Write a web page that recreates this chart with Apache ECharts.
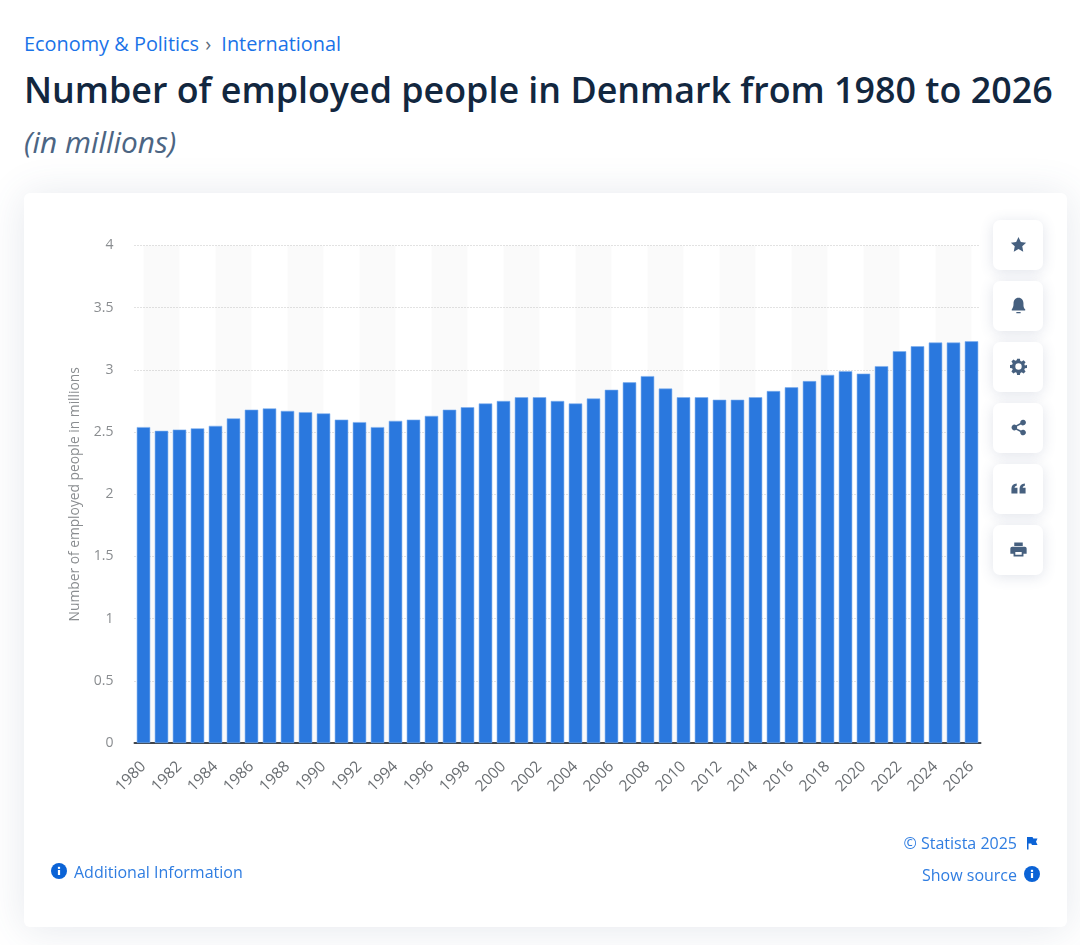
<!DOCTYPE html>
<html>
<head>
<meta charset="utf-8">
<title>Number of employed people in Denmark</title>
<script src="https://cdn.jsdelivr.net/npm/echarts@6/dist/echarts.min.js"></script>
<style>
  html, body { margin: 0; padding: 0; background: #fff; }
  body { width: 1080px; height: 945px; position: relative; overflow: hidden; font-family: "Open Sans", sans-serif; }
  .abs { position: absolute; white-space: nowrap; }
  .crumb { left: 24px; top: 30px; font-size: 19.9px; line-height: 27px; color: #1a73e8; }
  .crumb span { color: #5b6b7c; margin: 0 5px 0 1px; }
  h1 { margin: 0; left: 24px; top: 65px; font-size: 35.83px; line-height: 48px; font-weight: 600; color: #12273f; }
  .sub { left: 24px; top: 122px; font-size: 29.8px; line-height: 40px; font-style: italic; color: #4c6583; }
  #card { position: absolute; left: 24px; top: 193px; width: 1043px; height: 734px; background: #fff; border-radius: 6px;
          box-shadow: 0 2px 40px rgba(70, 90, 130, 0.14); }
  #chart { position: absolute; left: 24px; top: 193px; width: 1043px; height: 734px; }
  .btn { position: absolute; left: 993px; width: 50px; height: 50px; background: #fff; border-radius: 7px;
         box-shadow: 0 2px 14px rgba(70, 90, 130, 0.16); display: flex; align-items: center; justify-content: center; }
  .btn svg { width: 17px; height: 17px; fill: #46607f; margin-top: -1px; }
  .link { font-size: 16px; line-height: 22px; color: #2f7de1; }
  .ico { position: absolute; }
</style>
</head>
<body>
<div class="abs crumb">Economy &amp; Politics <span>›</span> International</div>
<h1 class="abs">Number of employed people in Denmark from 1980 to 2026</h1>
<div class="abs sub">(in millions)</div>
<div id="card"></div>
<div id="chart"></div>

<div class="btn" style="top:220px"><svg viewBox="0 0 24 24"><path d="M12 1.5l3.3 6.9 7.5 1-5.5 5.2 1.4 7.5L12 18.4l-6.7 3.7 1.4-7.5L1.200 9.400l7.500-1z"/></svg></div>
<div class="btn" style="top:281px"><svg viewBox="0 0 24 24"><path d="M12 1c-4.500 0-7 3.500-7 8 0 4-1 6-2.500 8.500-.4.7 0 1.500.9 1.500h17.200c.9 0 1.300-.8.9-1.500C19 15 19 13 19 9c0-4.500-2.500-8-7-8zM9 21h6v1.800H9z"/></svg></div>
<div class="btn" style="top:342px"><svg viewBox="0 0 24 24"><path fill-rule="evenodd" d="M10 1h4l.6 3.100 1.900.8 2.700-1.800 2.800 2.800-1.800 2.700.8 1.900L24 10v4l-3 .6-.8 1.900 1.800 2.700-2.800 2.800-2.700-1.800-1.900.8L14 24h-4l-.6-3.100-1.900-.8-2.700 1.800L2 19.100l1.800-2.700-.8-1.900L0 14v-4l3-.6.8-1.900L2 4.900l2.800-2.800 2.700 1.800 1.900-.8zM12 7.500a4.500 4.500 0 1 0 0 9 4.500 4.500 0 0 0 0-9z"/></svg></div>
<div class="btn" style="top:403px"><svg viewBox="0 0 24 24"><path d="M18.500 1a4 4 0 1 1-3 6.700L9.800 10.600a4 4 0 0 1 0 2.800l5.700 2.900a4 4 0 1 1-1 2l-5.900-3a4 4 0 1 1 0-6.600l5.900-3A4 4 0 0 1 18.500 1z"/></svg></div>
<div class="btn" style="top:464px"><svg viewBox="0 0 24 24"><path d="M2 12.500C2 8 4.500 5.500 9.500 5v3C7.500 8.300 6.500 9.300 6.500 11H10.500v8H2zM13.500 12.500C13.500 8 16 5.500 21 5v3c-2 .3-3 1.300-3 3h4v8h-8.500z"/></svg></div>
<div class="btn" style="top:525px"><svg viewBox="0 0 24 24"><path fill-rule="evenodd" d="M6 2h12v5H6zM3 8h18a2.500 2.500 0 0 1 2.500 2.500V18H19v4H5v-4H.5v-7.500A2.500 2.500 0 0 1 3 8zM7.500 15.500v4h9v-4z"/></svg></div>

<svg class="ico" style="left:51px;top:863px" width="16" height="16" viewBox="0 0 16 16"><circle cx="8" cy="8" r="8" fill="#0b63d6"/><rect x="6.900" y="7" width="2.200" height="5" fill="#fff"/><rect x="6.900" y="3.800" width="2.200" height="2.100" fill="#fff"/></svg>
<div class="abs link" style="left:74px;top:861px">Additional Information</div>
<div class="abs link" style="right:63px;top:832px">© Statista 2025</div>
<svg class="ico" style="left:1026px;top:836px" width="12" height="14" viewBox="0 0 12 14"><path d="M1 1h5.500l.8 1.500H11.500l-1.500 3.200 1.500 3.300H6l-.8-1.500H2.500V13.500H1z" fill="#0b63d6"/></svg>
<div class="abs link" style="right:63px;top:864px">Show source</div>
<svg class="ico" style="left:1024px;top:866px" width="16" height="16" viewBox="0 0 16 16"><circle cx="8" cy="8" r="8" fill="#0b63d6"/><rect x="6.900" y="7" width="2.200" height="5" fill="#fff"/><rect x="6.900" y="3.800" width="2.200" height="2.100" fill="#fff"/></svg>

<script>
const years = ['1980','1981','1982','1983','1984','1985','1986','1987','1988','1989',
  '1990','1991','1992','1993','1994','1995','1996','1997','1998','1999',
  '2000','2001','2002','2003','2004','2005','2006','2007','2008','2009',
  '2010','2011','2012','2013','2014','2015','2016','2017','2018','2019',
  '2020','2021','2022','2023','2024','2025','2026'];
const employed = [2.54,2.51,2.52,2.53,2.55,2.61,2.68,2.69,2.67,2.66,
  2.65,2.60,2.58,2.54,2.59,2.60,2.63,2.68,2.70,2.73,
  2.75,2.78,2.78,2.75,2.73,2.77,2.84,2.90,2.95,2.85,
  2.78,2.78,2.76,2.76,2.78,2.83,2.86,2.91,2.96,2.99,
  2.97,3.03,3.15,3.19,3.22,3.22,3.23];
const yMax = 4;
const yStep = 0.5;
const yName = 'Number of employed people in millions';

// grey bands run from the centre of one labelled year to the next one,
// so they go on a hidden numeric axis instead of the category axis
const bands = [];
for (let i = 0; i + 2 < years.length; i += 4) {
  bands.push([{ xAxis: +years[i] }, { xAxis: +years[i + 2] }]);
}

const myChart = echarts.init(document.getElementById('chart'));

const option = {
  animation: false,
  textStyle: { fontFamily: '"Open Sans", sans-serif' },
  grid: { left: 110.5, right: 86.5, top: 52.5, bottom: 184 },
  xAxis: [
    {
      type: 'category',
      data: years,
      axisTick: { show: false },
      axisLine: { lineStyle: { color: '#3f444a', width: 2 } },
      axisLabel: { interval: 1, rotate: 45, color: '#6b6f73', fontSize: 15.5, margin: 21 }
    },
    {
      type: 'value',
      show: false,
      min: +years[0] - 0.5,
      max: +years[years.length - 1] + 0.5
    }
  ],
  yAxis: {
    type: 'value',
    min: 0,
    max: yMax,
    interval: yStep,
    name: yName,
    nameLocation: 'middle',
    nameGap: 52,
    nameTextStyle: { color: '#8a8d90', fontSize: 13.8 },
    axisLine: { show: false },
    axisTick: { show: false },
    axisLabel: { color: '#8a8d90', fontSize: 14, margin: 21, padding: [4, 0, 0, 0] },
    splitLine: { lineStyle: { color: '#c4c4c4', type: [1, 2], width: 1 } }
  },
  series: [
    {
      type: 'line',
      xAxisIndex: 1,
      data: [],
      silent: true,
      markArea: {
        silent: true,
        itemStyle: { color: 'rgba(0,0,0,0.02)' },
        data: bands
      }
    },
    {
      type: 'bar',
      data: employed,
      barWidth: 13.5,
      itemStyle: { color: '#2a78de', borderColor: '#7fb0ee', borderWidth: 0.6 },
      emphasis: { disabled: true }
    }
  ]
};

myChart.setOption(option);
</script>
</body>
</html>
